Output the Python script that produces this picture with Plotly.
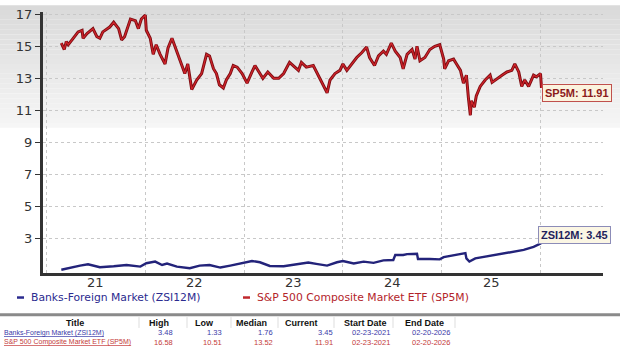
import plotly.graph_objects as go

# ---------------- data (time in decimal years) ----------------
sp5m_t = [2021.15, 2021.18, 2021.20, 2021.22, 2021.27, 2021.32, 2021.36, 2021.37, 2021.41, 2021.47,
          2021.51, 2021.54, 2021.57, 2021.64, 2021.68, 2021.73, 2021.76, 2021.79, 2021.85, 2021.90,
          2021.93, 2021.96, 2022.00, 2022.01, 2022.05, 2022.08, 2022.11, 2022.15, 2022.20, 2022.23,
          2022.27, 2022.32, 2022.37, 2022.40, 2022.43, 2022.47, 2022.52, 2022.57, 2022.62, 2022.65,
          2022.69, 2022.72, 2022.75, 2022.79, 2022.82, 2022.86, 2022.89, 2022.93, 2022.98, 2023.03,
          2023.08, 2023.11, 2023.16, 2023.19, 2023.24, 2023.30, 2023.35, 2023.40, 2023.46, 2023.52,
          2023.55, 2023.58, 2023.63, 2023.70, 2023.75, 2023.79, 2023.84, 2023.87, 2023.92, 2023.97,
          2024.00, 2024.04, 2024.09, 2024.14, 2024.19, 2024.24, 2024.27, 2024.32, 2024.36, 2024.41,
          2024.44, 2024.49, 2024.53, 2024.58, 2024.61, 2024.65, 2024.70, 2024.73, 2024.75, 2024.78,
          2024.83, 2024.88, 2024.93, 2024.98, 2025.02, 2025.03, 2025.07, 2025.12, 2025.15, 2025.19,
          2025.22, 2025.25, 2025.27, 2025.29, 2025.30, 2025.33, 2025.35, 2025.39, 2025.44, 2025.49,
          2025.51, 2025.56, 2025.61, 2025.66, 2025.71, 2025.74, 2025.78, 2025.81, 2025.84, 2025.88,
          2025.93, 2025.96, 2026.00, 2026.01]
sp5m_v = [15.2, 14.8, 15.3, 15.1, 15.5, 15.9, 16.0, 15.5, 15.8, 16.1,
          15.6, 15.5, 15.9, 16.2, 16.5, 16.1, 15.4, 15.6, 16.7, 16.6,
          16.1, 16.7, 16.95, 16.0, 15.5, 14.5, 15.1, 14.5, 13.9, 14.9,
          15.5, 14.7, 13.8, 13.3, 13.9, 12.3, 12.9, 13.3, 14.5, 14.4,
          13.6, 13.3, 12.6, 12.4, 12.9, 13.3, 13.8, 13.7, 13.3, 12.7,
          13.4, 13.8, 13.3, 13.0, 13.4, 13.0, 13.0, 13.3, 14.0, 13.7,
          13.5, 14.0, 13.7, 13.8, 13.2, 12.7, 12.1, 12.9, 13.3, 13.5,
          13.9, 13.5, 13.9, 14.3, 14.6, 14.95, 14.3, 13.8, 14.4, 14.7,
          14.5, 15.2, 14.7, 14.3, 13.6, 14.5, 14.8, 14.2, 15.0, 14.1,
          14.3, 14.8, 15.0, 15.1, 14.2, 13.6, 14.1, 14.2, 13.9, 13.5,
          12.7, 13.2, 11.8, 10.7, 11.6, 11.2, 11.9, 12.5, 12.9, 13.2,
          12.75, 13.0, 13.2, 13.4, 13.5, 13.9, 13.4, 12.5, 12.9, 12.5,
          13.2, 13.1, 13.3, 12.4]

zsi_t = [2021.15, 2021.24, 2021.34, 2021.42, 2021.54, 2021.68, 2021.81, 2021.95, 2022.01, 2022.10,
         2022.17, 2022.22, 2022.32, 2022.45, 2022.55, 2022.65, 2022.76, 2022.86, 2022.98, 2023.08,
         2023.16, 2023.26, 2023.40, 2023.53, 2023.65, 2023.73, 2023.84, 2023.94, 2024.00, 2024.11,
         2024.21, 2024.31, 2024.41, 2024.51, 2024.53, 2024.61, 2024.65, 2024.75, 2024.76, 2024.88,
         2024.98, 2025.02, 2025.12, 2025.24, 2025.25, 2025.28, 2025.34, 2025.46, 2025.59, 2025.72,
         2025.83, 2025.93, 2026.00, 2026.01]
zsi_v = [1.06, 1.20, 1.32, 1.40, 1.22, 1.28, 1.36, 1.26, 1.47, 1.57,
         1.36, 1.45, 1.26, 1.16, 1.32, 1.36, 1.20, 1.32, 1.47, 1.61,
         1.53, 1.30, 1.28, 1.40, 1.51, 1.43, 1.32, 1.53, 1.61, 1.45,
         1.57, 1.49, 1.65, 1.67, 1.98, 1.98, 2.04, 2.06, 1.73, 1.73,
         1.71, 1.85, 1.98, 2.10, 1.77, 1.57, 1.77, 1.90, 2.00, 2.14,
         2.30, 2.49, 2.69, 2.80]

year_ticks = [2021.5, 2022.5, 2023.5, 2024.5, 2025.5]
year_labels = ["21", "22", "23", "24", "25"]
year_bounds = [2021, 2022, 2023, 2024, 2025, 2026]
y_ticks = [3, 5, 7, 9, 11, 13, 15, 17]

table_cols = ["Title", "High", "Low", "Median", "Current", "Start Date", "End Date"]
row_names = ["Banks-Foreign Market (ZSI12M)", "S&P 500 Composite Market ETF (SP5M)"]
row_vals = [["3.48", "1.33", "1.76", "3.45", "02-23-2021", "02-20-2026"],
            ["16.58", "10.51", "13.52", "11.91", "02-23-2021", "02-20-2026"]]
label_sp5m = "SP5M: 11.91"
label_zsi = "ZSI12M: 3.45"
legend_names = ["Banks-Foreign Market (ZSI12M)", "S&P 500 Composite Market ETF (SP5M)"]

# ---------------- figure ----------------
W, H = 620, 361
L, R, T, B = 43, 17, 7, 88
PW, PH = W - L - R, H - T - B

def px(x):
    return (x - L) / PW

def py(y):
    return (H - B - y) / PH

BLUE = "#2b2b8f"
FONT = "DejaVu Sans, Verdana, sans-serif"
AFONT = "Liberation Sans, Arial, sans-serif"

fig = go.Figure()
fig.add_trace(go.Scatter(x=zsi_t, y=zsi_v, mode="lines",
                         line=dict(color="#23237a", width=2.4), hoverinfo="skip"))
fig.add_trace(go.Scatter(x=sp5m_t, y=sp5m_v, mode="lines",
                         line=dict(color="#7c0d12", width=3.0), hoverinfo="skip"))
fig.add_trace(go.Scatter(x=sp5m_t, y=sp5m_v, mode="lines",
                         line=dict(color="#d0242b", width=1.2), hoverinfo="skip"))

shapes = []
# gradient background at top of the page
n = 25
for i in range(n):
    y0 = i * 125 / n
    y1 = (i + 1) * 125 / n
    c = int(218 + (246 - 218) * i / (n - 1))
    shapes.append(dict(type="rect", xref="paper", yref="paper",
                       x0=px(0), x1=px(W), y0=py(y1), y1=py(y0),
                       fillcolor=f"rgb({c},{c},{c})", line=dict(width=0), layer="below"))

# legend dashes
shapes.append(dict(type="line", xref="paper", yref="paper", x0=px(17), x1=px(24),
                   y0=py(298), y1=py(298), line=dict(color=BLUE, width=2.5)))
shapes.append(dict(type="line", xref="paper", yref="paper", x0=px(243), x1=px(250),
                   y0=py(298), y1=py(298), line=dict(color="#c0282d", width=2.5)))
# table top rule
shapes.append(dict(type="line", xref="paper", yref="paper", x0=px(0), x1=px(W),
                   y0=py(315.5), y1=py(315.5), line=dict(color="#8a8a8a", width=3)))
# table column separators
for sx in [139, 187, 231, 278, 334, 393, 455]:
    shapes.append(dict(type="line", xref="paper", yref="paper", x0=px(sx), x1=px(sx),
                       y0=py(318), y1=py(329), line=dict(color="#dddddd", width=1)))

annotations = []
# x tick labels
for tv, tl in zip(year_ticks, year_labels):
    annotations.append(dict(xref="x", yref="paper", x=tv, y=py(283), text=tl,
                            showarrow=False, xanchor="center", yanchor="middle",
                            font=dict(family=FONT, size=13, color="#333333")))
# legend texts
annotations.append(dict(xref="paper", yref="paper", x=px(29), y=py(298), text=legend_names[0],
                        showarrow=False, xanchor="left", yanchor="middle",
                        font=dict(family=FONT, size=10.8, color=BLUE)))
annotations.append(dict(xref="paper", yref="paper", x=px(255), y=py(298), text=legend_names[1],
                        showarrow=False, xanchor="left", yanchor="middle",
                        font=dict(family=FONT, size=10.8, color="#b3242a")))

# table header
hdr_x = [75, 159, 204, 251, 301, 365, 424]
for name, hx in zip(table_cols, hdr_x):
    annotations.append(dict(xref="paper", yref="paper", x=px(hx), y=py(324), text="<b>" + name + "</b>",
                            showarrow=False, xanchor="center", yanchor="middle",
                            font=dict(family=AFONT, size=9, color="#111111")))
# table rows
val_right = [175, 224, 275, 335, 392, 452]
row_y = [334, 343.5]
row_colors = ["#3a3aa8", "#c43a3a"]
for r in range(2):
    annotations.append(dict(xref="paper", yref="paper", x=px(2), y=py(row_y[r]),
                            text="<u>" + row_names[r] + "</u>", showarrow=False,
                            xanchor="left", yanchor="middle",
                            font=dict(family=AFONT, size=7, color=row_colors[r])))
    for v, vx in zip(row_vals[r], val_right):
        annotations.append(dict(xref="paper", yref="paper", x=px(vx), y=py(row_y[r]), text=v,
                                showarrow=False, xanchor="right", yanchor="middle",
                                font=dict(family=AFONT, size=7.5, color=row_colors[r])))

# end-value labels
annotations.append(dict(xref="paper", yref="paper", x=px(577), y=py(89.5), text="<b>" + label_sp5m + "</b>",
                        showarrow=False, xanchor="center", yanchor="middle",
                        font=dict(family=AFONT, size=11, color="#8c1a1a"),
                        bgcolor="#fbf3de", bordercolor="#c0504d", borderwidth=1, borderpad=2))
annotations.append(dict(xref="paper", yref="paper", x=px(574), y=py(234), text="<b>" + label_zsi + "</b>",
                        showarrow=False, xanchor="center", yanchor="middle",
                        font=dict(family=AFONT, size=11, color="#1f1f5c"),
                        bgcolor="#fbf6e4", bordercolor="#8c8cb8", borderwidth=1, borderpad=2))

x_lo = 2021 + (L - 46.5) / 98.8
x_hi = 2021 + (W - R - 46.5) / 98.8

fig.update_layout(
    width=W, height=H,
    margin=dict(l=L, r=R, t=T, b=B),
    paper_bgcolor="white",
    plot_bgcolor="rgba(0,0,0,0)",
    showlegend=False,
    hovermode=False,
    shapes=shapes,
    annotations=annotations,
    xaxis=dict(range=[x_lo, x_hi], tickvals=year_ticks, ticktext=year_labels,
               showticklabels=False,
               showgrid=False, zeroline=False, ticks="",
               showline=True, linecolor="#333333", linewidth=3,
               minor=dict(tickvals=year_bounds, showgrid=True, gridcolor="#c8c8c8",
                          griddash="dot", gridwidth=1, ticks="")),
    yaxis=dict(range=[0.86, 17.14], tickvals=y_ticks, showgrid=True, gridcolor="#c8c8c8",
               griddash="dot", gridwidth=1, zeroline=False,
               ticks="outside", ticklen=5, tickcolor="#333333", tickwidth=1,
               showline=True, linecolor="#333333", linewidth=3,
               tickfont=dict(family=FONT, size=13, color="#333333")),
)

fig.write_html("out.html", config={"displayModeBar": False, "staticPlot": True},
               post_script="document.body.style.margin='0';document.body.style.overflow='hidden';")
